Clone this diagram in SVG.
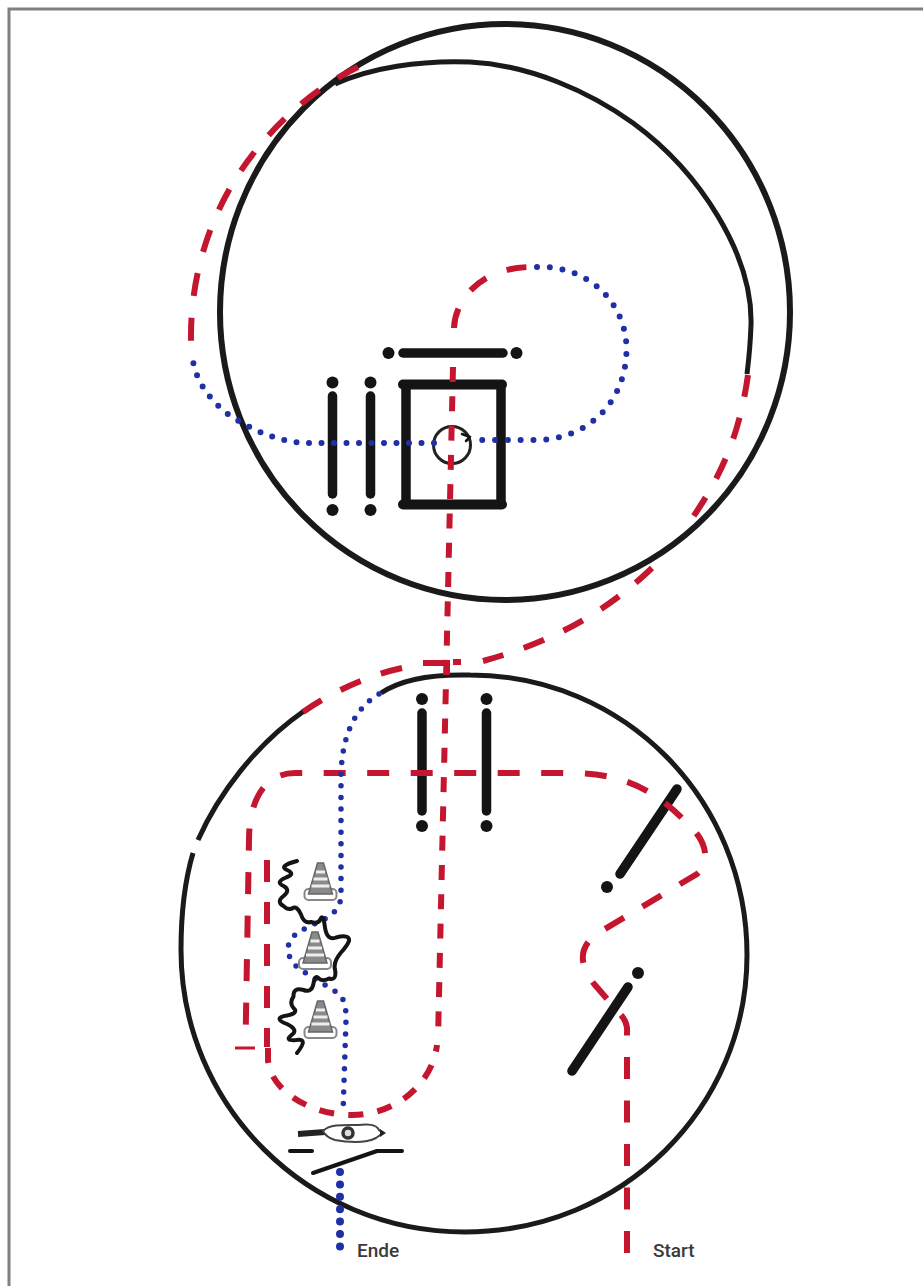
<svg xmlns="http://www.w3.org/2000/svg" width="923" height="1286" viewBox="0 0 923 1286">
<style>
.ring{fill:none;stroke:#1a1a1a;stroke-width:6}
.ring2{fill:none;stroke:#1a1a1a;stroke-width:5}
.bar{stroke:#141414;stroke-width:9.500;stroke-linecap:round;fill:none}
.dot{fill:#141414}
.red{fill:none;stroke:#c4162f;stroke-width:6;stroke-dasharray:22 21.500}
.red-short{fill:none;stroke:#c4162f;stroke-width:6;stroke-dasharray:15 14.300}
.red-solid{fill:none;stroke:#c4162f;stroke-width:6}
.blue{fill:none;stroke:#1f2fa5;stroke-width:6;stroke-linecap:round;stroke-dasharray:0 12.800}
.thin{fill:none;stroke:#141414;stroke-width:4;stroke-linecap:round;stroke-linejoin:round}
text{font-family:Roboto,"Liberation Sans",sans-serif;font-size:19px;font-weight:500;fill:#3a3a3a}
</style>
<defs>
<g id="cone">
<rect x="-16" y="26" width="32" height="11" rx="4" fill="#fff" stroke="#888" stroke-width="2"/>
<path d="M-3 0H3L12 31H-12Z" fill="#8a8a8a" stroke="#666" stroke-width="1.500"/>
<path d="M-4.500 9H4.500M-7 16H7M-9 23H9" stroke="#eee" stroke-width="3" fill="none"/>
</g>
</defs>
<rect width="923" height="1286" fill="#fff"/>
<path d="M9 1286V9H923" fill="none" stroke="#808080" stroke-width="3"/>

<g id="gate-top"><path class="bar" d="M403 353H503"/><circle class="dot" cx="388.500" cy="353" r="6"/><circle class="dot" cx="516.500" cy="353" r="6"/></g>
<g id="gate-left-1"><path class="bar" d="M332.500 396V494"/><circle class="dot" cx="332.500" cy="382.500" r="6"/><circle class="dot" cx="332.500" cy="510" r="6"/></g>
<g id="gate-left-2"><path class="bar" d="M370.500 396V494"/><circle class="dot" cx="370.500" cy="382.500" r="6"/><circle class="dot" cx="370.500" cy="510" r="6"/></g>
<g id="box">
<path d="M403 384.500H502M403 504.500H502" class="bar" style="stroke-width:10"/>
<path d="M406 385V505M501 385V505" fill="none" stroke="#141414" stroke-width="9.500"/>
<circle cx="452" cy="445" r="18.500" fill="none" stroke="#222" stroke-width="3"/>
<path d="M462 434L470 437L466 441" class="thin" style="stroke-width:2.500"/>
</g>
<g id="gate-lower-1"><path class="bar" d="M422 713V811"/><circle class="dot" cx="422" cy="699" r="6"/><circle class="dot" cx="422" cy="826" r="6"/></g>
<g id="gate-lower-2"><path class="bar" d="M486.500 713V811"/><circle class="dot" cx="486.500" cy="699" r="6"/><circle class="dot" cx="486.500" cy="826" r="6"/></g>
<g id="gate-diag-1"><path class="bar" d="M677 789L620 874"/><circle class="dot" cx="607" cy="887" r="6"/></g>
<g id="gate-diag-2"><path class="bar" d="M628 987L572 1071"/><circle class="dot" cx="638" cy="973" r="6"/></g>

<g id="upper-ring">
<ellipse cx="505" cy="312" rx="285" ry="288" class="ring"/>
<path d="M335 84C370 68 420 60 470 62C530 65 590 92 633 123C700 172 753 255 751 325C750.500 340 749 358 747 374" class="ring2"/>
</g>
<g id="lower-ring">
<path d="M381 693C400 680 430 674 470 675C625 675 747 800 747 955C747 1108 622 1232 465 1232C307 1232 181 1105 181 950C181 915 185 880 193 853" class="ring2"/>
<path d="M198 840C218 795 255 745 304 711" class="ring2"/>
</g>

<g id="connectors">
<path class="red" d="M627 1253V1033Q628 1022 620 1014L595 985C578 965 578 945 600 932L697 874C712 862 705 840 690 826C660 795 630 773 570 773H295C265 773 249 800 249 840L245.700 1032"/>
<path class="red-solid" d="M235 1048H255" style="stroke-width:3"/>
<path class="red" d="M267 860V1047" style="stroke-dasharray:22 20"/>
<path class="red-short" d="M268 1048V1060C270 1090 310 1115 352 1115C395 1115 432 1085 437 1045"/>
<path class="red-short" d="M453 367L438 1040"/>
<path class="red" d="M454 328C455 300 480 268 530 267" style="stroke-dasharray:20 22"/>
<path class="red" d="M748 375C740 430 725 470 693 517"/>
<path class="red" d="M652 568C610 608 560 640 483 661"/>
<path class="red-solid" d="M461 662H453"/>
<path class="red-solid" d="M423 663H447V675"/>
<path class="red" d="M402 668C370 675 335 690 303 712"/>
<path class="red" d="M358 67C310 90 268 130 240 172C205 225 190 285 191 342" style="stroke-dasharray:23 22"/>
<path class="blue" d="M537 267C590 265 627 305 626.500 350C626 400 590 440 535 440H479"/>
<path class="blue" d="M434 443H310C280 443 250 430 225 412C205 395 193 375 192 352" style="stroke-dasharray:0 12.500"/>
<path class="blue" d="M379 694C355 708 342 735 341 775V895C341 920 310 922 295 935C283 945 287 962 304 972L333 990C345 997 346 1005 346 1020L343 1114" style="stroke-width:5.500;stroke-dasharray:0 11.600"/>
<path class="blue" d="M340 1172V1248" style="stroke-width:8;stroke-dasharray:0 12.400"/>
</g>

<g id="cones">
<use href="#cone" x="320.500" y="863"/>
<use href="#cone" x="315" y="932"/>
<use href="#cone" x="320.500" y="1001"/>
</g>
<g id="squiggle">
<path class="thin" d="M297 861Q278 866 287 870Q296 874 286 877.500Q275 882 283.500 886Q291 890 283.500 896Q276 902 283.500 906Q287 910 292 908.500Q297 905 301 914.500Q304 924 311 922Q318 924 320 920Q323 912 325 927.500Q327 941 336 937.500Q350 934 349 941Q347 946 341 952.500Q333 962 335 969.500Q337 981 329 978.500Q322 982 319 978.500Q315 974 313.500 983.500Q312 993 303.500 990Q293 987 293.500 996.500Q289 1003 293.500 1008Q299 1013 287 1015.500Q272 1018 287 1024Q299 1030 291.500 1035Q284 1041 296.500 1040Q309 1038 297 1053"/>
</g>
<g id="figure">
<path d="M298 1134L325 1132" stroke="#222" stroke-width="6" fill="none"/>
<path d="M323 1131C330 1124 345 1125 358 1125C368 1124 376 1124 379 1130L383 1133L376 1138C365 1144 345 1142 335 1140C328 1138 325 1135 323 1131Z" fill="#fff" stroke="#444" stroke-width="2"/>
<path d="M380 1129L386 1133L380 1137Z" fill="#222"/>
<circle cx="348" cy="1133" r="5" fill="#ddd" stroke="#333" stroke-width="3.500"/>
</g>
<g id="finish-gate">
<path class="thin" d="M290 1151H312"/>
<path class="thin" d="M313 1173L377 1151H402"/>
</g>
<g id="label-ende"><text x="357" y="1257">Ende</text></g>
<g id="label-start"><text x="653" y="1257">Start</text></g>
</svg>
